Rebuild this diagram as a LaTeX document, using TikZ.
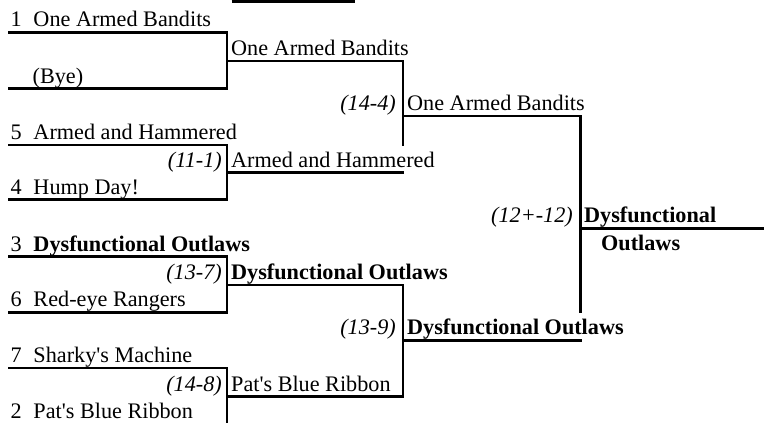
\documentclass[tikz,border=0pt]{standalone}
\usepackage{fontspec}
\setmainfont{Liberation Serif}[Ligatures=TeXOff]
\newcommand\brfont{\fontsize{22.2}{26}\selectfont}
\begin{document}
\begin{tikzpicture}[x=1pt,y=-1pt,
  br/.style={line width=2.7pt, line join=miter},
  tx/.style={anchor=base west, inner sep=0pt, font=\brfont},
  bx/.style={anchor=base west, inner sep=0pt, font=\brfont\bfseries},
  sc/.style={anchor=base east, inner sep=0pt, font=\brfont\itshape}]
\useasboundingbox (0,0) rectangle (764,423);
% seeds column
\newcommand\sd[1]{\makebox[23pt][l]{#1}}
% coordinates
\coordinate (top1) at (231.7,1.35); \coordinate (top2) at (355,1.35);
\coordinate (a1) at (8,32.5);   \coordinate (a2) at (8,88.5);
\coordinate (a3) at (8,145);    \coordinate (a4) at (8,199.3);
\coordinate (a5) at (8,256.7);  \coordinate (a6) at (8,312.3);
\coordinate (a7) at (8,368);
\coordinate (b1) at (227,61);   \coordinate (b2) at (227,172.7);
\coordinate (b3) at (227,285);  \coordinate (b4) at (227,396.3);
\coordinate (c1) at (403,116);  \coordinate (c2) at (403,340.3);
\coordinate (d1) at (580.3,228.7);
\coordinate (fin) at (764,228.7);
% top bar
\draw[br] (top1) -- (top2);
% round 1
\draw[br] (a1) -- (a1 -| b1) -- (a2 -| b1) -- (a2);
\draw[br] (a3) -- (a3 -| b2) -- (a4 -| b2) -- (a4);
\draw[br] (a5) -- (a5 -| b3) -- (a6 -| b3) -- (a6);
\draw[br] (a7) -- (a7 -| b4) -- (227,423);
% round 2
\draw[br] (b1) -- (b1 -| c1) -- (403,145.6);
\draw[br] (b2) -- (404.3,172.7);
\draw[br] (b3) -- (b3 -| c2) -- (b4 -| c2) -- (b4);
% round 3
\draw[br] (c1) -- (c1 -| d1) -- (580.3,313);
\draw[br] (c2) -- (581.6,340.3);
% final
\draw[br] (d1) -- (fin);
% texts round 1
\node[tx] (t1) at (10.3,27) {\sd{1}One Armed Bandits};
\node[tx] (t2) at (32.5,83) {(Bye)};
\node[tx] (t3) at (10.3,139.5) {\sd{5}Armed and Hammered};
\node[tx] (t4) at (10.3,194) {\sd{4}Hump Day!};
\node[tx] (t5) at (10.3,251) {\sd{3}\textbf{Dysfunctional Outlaws}};
\node[tx] (t6) at (10.3,306.8) {\sd{6}Red-eye Rangers};
\node[tx] (t7) at (10.3,362.5) {\sd{7}Sharky's Machine};
\node[tx] (t8) at (10.3,418) {\sd{2}Pat's Blue Ribbon};
% round 2
\node[tx] (w1) at (231,55.5) {One Armed Bandits};
\node[sc] (s2) at (222,167) {(11-1)};
\node[tx] (w2) at (231,167) {Armed and Hammered};
\node[sc] (s3) at (222,279.5) {(13-7)};
\node[bx] (w3) at (231,279.5) {Dysfunctional Outlaws};
\node[sc] (s4) at (222,391) {(14-8)};
\node[tx] (w4) at (231,391) {Pat's Blue Ribbon};
% round 3
\node[sc] (s5) at (396,110.5) {(14-4)};
\node[tx] (w5) at (407,110.5) {One Armed Bandits};
\node[sc] (s6) at (396,334.8) {(13-9)};
\node[bx] (w6) at (407,334.8) {Dysfunctional Outlaws};
% final
\node[sc] (s7) at (573,222.5) {(12+-12)};
\node[bx] (w7) at (584,222.5) {Dysfunctional};
\node[bx] (w8) at (601,250) {Outlaws};
\end{tikzpicture}
\end{document}
